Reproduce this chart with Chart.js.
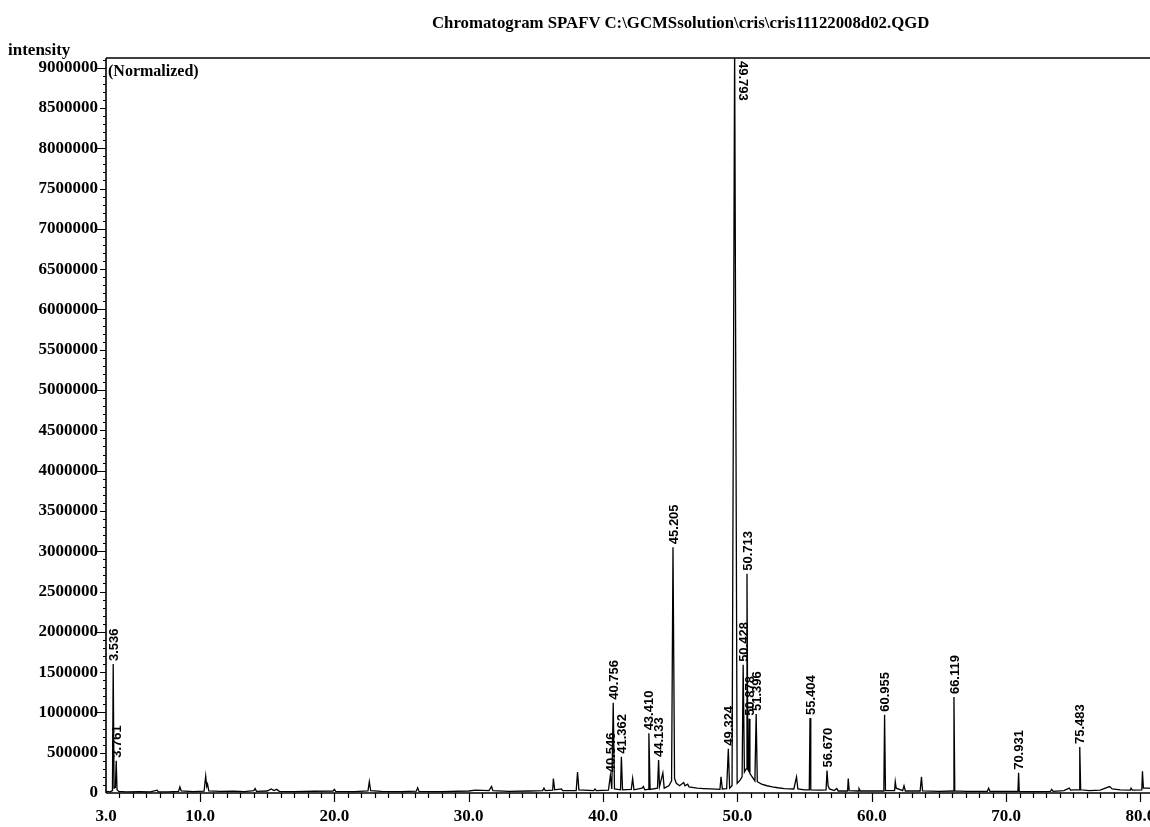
<!DOCTYPE html>
<html>
<head>
<meta charset="utf-8">
<script src="https://cdn.jsdelivr.net/npm/chart.js@4"></script>
<style>
  html, body { margin: 0; padding: 0; background: #fff; overflow: hidden; }
  #wrap { position: relative; width: 1170px; height: 827px; }
  .txt { position: absolute; font-family: "Liberation Serif", serif; font-weight: bold; color: #000; white-space: nowrap; }
  #title { left: 432px; top: 13px; font-size: 16.8px; }
  #ylab { left: 8px; top: 40px; font-size: 17px; }
  #norm { left: 108px; top: 62px; font-size: 16px; }
</style>
</head>
<body>
<div id="wrap">
  <canvas id="c" width="1170" height="827"></canvas>
  <div class="txt" id="title">Chromatogram SPAFV C:\GCMSsolution\cris\cris11122008d02.QGD</div>
  <div class="txt" id="ylab">intensity</div>
  <div class="txt" id="norm">(Normalized)</div>
</div>
<script>
// retention time (min) and intensity of the trace
const retentionTimes = [
  3.00, 3.30, 3.48, 3.536, 3.60, 3.70, 3.761, 3.82, 3.95, 4.5, 5.5, 6.3, 6.8, 6.9, 7.6,
  8.4, 8.5, 8.6, 9.5, 10.3, 10.42, 10.5, 10.56, 10.65, 11.5, 12.5, 13.3, 14.0, 14.1, 14.2,
  15.0, 15.3, 15.5, 15.7, 15.9, 17.0, 18.5, 19.9, 20.0, 20.1, 21.5, 22.5, 22.6, 22.7, 23.5,
  25.0, 26.1, 26.2, 26.3, 28.0, 30.0, 30.5, 31.5, 31.7, 31.8, 33.0, 34.5, 35.5, 35.6, 35.7,
  36.25, 36.3, 36.4, 36.9, 37.0, 38.0, 38.1, 38.2, 39.3, 39.4, 39.5, 40.4, 40.546, 40.65, 40.756,
  40.85, 41.3, 41.362, 41.45, 42.1, 42.2, 42.3, 42.9, 43.0, 43.1, 43.35, 43.41, 43.5, 44.05, 44.133,
  44.2, 44.45, 44.55, 44.9, 45.1, 45.205, 45.32, 45.45, 45.7, 46.0, 46.1, 46.3, 46.4, 47.0, 47.5,
  48.0, 48.7, 48.78, 48.88, 49.2, 49.324, 49.42, 49.6, 49.793, 49.98, 50.2, 50.35, 50.428, 50.52, 50.65,
  50.713, 50.78, 50.85, 50.878, 50.93, 51.1, 51.3, 51.396, 51.48, 51.8, 52.2, 52.6, 53.0, 53.5, 54.2,
  54.4, 54.5, 55.0, 55.35, 55.404, 55.46, 56.2, 56.6, 56.67, 56.75, 56.85, 57.2, 57.4, 57.5, 58.2,
  58.25, 58.32, 59.0, 59.05, 59.15, 60.9, 60.955, 61.02, 61.7, 61.75, 61.82, 62.3, 62.4, 62.5, 63.6,
  63.7, 63.78, 65.0, 66.05, 66.119, 66.18, 67.0, 68.6, 68.7, 68.8, 70.88, 70.931, 70.98, 72.0, 73.3,
  73.4, 73.5, 74.3, 74.7, 74.8, 75.1, 75.43, 75.483, 75.55, 76.2, 77.0, 77.7, 77.9, 78.5, 79.25,
  79.3, 79.4, 80.1, 80.15, 80.22, 80.6, 81.0, 82.2
];
const intensities = [
  20000, 15000, 30000, 1600000, 60000, 70000, 400000, 40000, 20000, 15000, 18000, 15000, 35000, 15000, 14000,
  20000, 75000, 25000, 18000, 22000, 210000, 80000, 110000, 25000, 20000, 22000, 18000, 30000, 55000, 20000,
  25000, 50000, 30000, 45000, 20000, 18000, 22000, 25000, 45000, 20000, 18000, 25000, 140000, 30000, 20000,
  18000, 22000, 65000, 20000, 18000, 25000, 35000, 30000, 80000, 30000, 20000, 25000, 30000, 60000, 30000,
  35000, 180000, 40000, 50000, 30000, 30000, 260000, 40000, 30000, 50000, 30000, 35000, 220000, 50000, 1120000,
  50000, 40000, 450000, 40000, 45000, 180000, 40000, 60000, 80000, 40000, 45000, 740000, 45000, 60000, 410000,
  80000, 250000, 60000, 90000, 150000, 3050000, 180000, 120000, 90000, 130000, 90000, 110000, 75000, 60000, 55000,
  50000, 45000, 200000, 50000, 55000, 550000, 60000, 90000, 9300000, 120000, 160000, 200000, 1590000, 260000, 300000,
  2720000, 290000, 270000, 920000, 240000, 200000, 150000, 980000, 140000, 110000, 90000, 75000, 65000, 55000, 50000,
  200000, 50000, 40000, 40000, 930000, 40000, 35000, 40000, 280000, 90000, 50000, 30000, 55000, 25000, 25000,
  180000, 30000, 25000, 55000, 25000, 25000, 970000, 30000, 30000, 140000, 60000, 30000, 90000, 25000, 25000,
  200000, 25000, 20000, 25000, 1190000, 25000, 20000, 20000, 60000, 20000, 20000, 250000, 20000, 18000, 20000,
  45000, 20000, 30000, 60000, 35000, 40000, 40000, 570000, 40000, 30000, 35000, 80000, 50000, 40000, 35000,
  60000, 35000, 40000, 270000, 60000, 60000, 50000, 50000
];

// labelled peaks: retention time and apex intensity
const peakTimes = [3.536, 3.761, 40.546, 40.756, 41.362, 43.410, 44.133, 45.205, 49.324, 49.793,
  50.428, 50.713, 50.878, 51.396, 55.404, 56.670, 60.955, 66.119, 70.931, 75.483];
const peakHeights = [1600000, 400000, 220000, 1120000, 450000, 740000, 410000, 3050000, 550000, 9300000,
  1590000, 2720000, 920000, 980000, 930000, 280000, 970000, 1190000, 250000, 570000];

const xTickLabels = [3, 10, 20, 30, 40, 50, 60, 70, 80];
const yTickLabels = [0, 500000, 1000000, 1500000, 2000000, 2500000, 3000000, 3500000, 4000000,
  4500000, 5000000, 5500000, 6000000, 6500000, 7000000, 7500000, 8000000, 8500000, 9000000];

const points = retentionTimes.map((t, i) => ({ x: t, y: intensities[i] }));

const decor = {
  id: 'decor',
  afterDraw(chart) {
    const { ctx, chartArea: a, scales: { x, y } } = chart;
    ctx.save();
    ctx.strokeStyle = '#000';
    ctx.lineWidth = 1.6;
    ctx.beginPath();
    ctx.moveTo(a.left, a.top); ctx.lineTo(a.right, a.top);
    ctx.moveTo(a.left, a.top); ctx.lineTo(a.left, a.bottom);
    ctx.moveTo(a.left, a.bottom); ctx.lineTo(a.right, a.bottom);
    ctx.stroke();

    // tick marks
    ctx.lineWidth = 1.2;
    ctx.beginPath();
    for (let t = 4; t <= 82; t++) {
      const px = Math.round(x.getPixelForValue(t)) + 0.5;
      const len = t % 10 === 0 ? 9 : 5;
      ctx.moveTo(px, a.bottom); ctx.lineTo(px, a.bottom + len);
    }
    for (let k = 1; k <= 91; k++) {
      const v = k * 100000;
      const py = Math.round(y.getPixelForValue(v)) + 0.5;
      const len = k % 10 === 0 ? 9 : (k % 5 === 0 ? 6 : 3);
      ctx.moveTo(a.left - len, py); ctx.lineTo(a.left, py);
    }
    ctx.stroke();

    // peak labels
    ctx.fillStyle = '#000';
    ctx.font = 'bold 13px "Liberation Sans", Arial, sans-serif';
    ctx.textBaseline = 'middle';
    peakTimes.forEach((t, i) => {
      const px = x.getPixelForValue(t);
      const txt = t.toFixed(3);
      ctx.save();
      if (peakHeights[i] > y.max) {
        ctx.translate(px + 8, a.top + 3);
        ctx.rotate(Math.PI / 2);
      } else {
        const py = y.getPixelForValue(peakHeights[i]);
        ctx.translate(px + 1, py - 3);
        ctx.rotate(-Math.PI / 2);
      }
      ctx.textAlign = 'left';
      ctx.fillText(txt, 0, 0);
      ctx.restore();
    });
    ctx.restore();
  }
};

new Chart(document.getElementById('c'), {
  type: 'line',
  data: {
    datasets: [{
      data: points,
      borderColor: '#000',
      borderWidth: 1.3,
      pointRadius: 0,
      tension: 0,
      fill: false
    }]
  },
  options: {
    responsive: false,
    animation: false,
    devicePixelRatio: 1,
    parsing: false,
    layout: { padding: { top: 58, left: 0, right: 0, bottom: 0 } },
    plugins: { legend: { display: false }, tooltip: { enabled: false }, title: { display: false } },
    scales: {
      x: {
        type: 'linear',
        min: 3,
        max: 82.2,
        grid: { display: false, tickLength: 0 },
        border: { display: false },
        afterBuildTicks: s => { s.ticks = xTickLabels.map(v => ({ value: v })); },
        afterFit: s => { s.height = 34; },
        ticks: {
          autoSkip: false,
          maxRotation: 0,
          padding: 13,
          color: '#000',
          font: { family: 'Liberation Serif', weight: 'bold', size: 17 },
          callback: v => Number(v).toFixed(1)
        }
      },
      y: {
        type: 'linear',
        min: 0,
        max: 9120000,
        grid: { display: false, tickLength: 0 },
        border: { display: false },
        afterBuildTicks: s => { s.ticks = yTickLabels.map(v => ({ value: v })); },
        afterFit: s => { s.width = 106; },
        ticks: {
          autoSkip: false,
          padding: 8,
          color: '#000',
          font: { family: 'Liberation Serif', weight: 'bold', size: 17 },
          callback: v => String(v)
        }
      }
    }
  },
  plugins: [decor]
});
</script>
</body>
</html>
